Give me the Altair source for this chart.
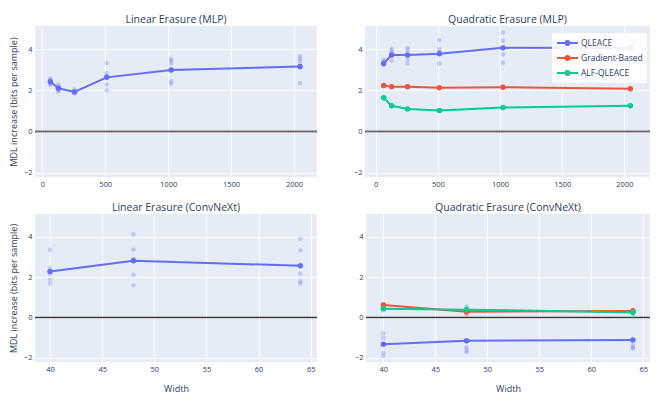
import altair as alt
import pandas as pd

# ---------------- data ----------------
methods = ["QLEACE", "Gradient-Based", "ALF-QLEACE"]
colors = ["#636EFA", "#EF553B", "#00CC96"]

widths_mlp = [64, 128, 256, 512, 1024, 2048]
widths_conv = [40, 48, 64]

lin_mlp_mean = [2.42, 2.10, 1.92, 2.63, 2.99, 3.16]
lin_mlp_seeds = [[2.58, 2.50, 2.34, 2.26], [2.29, 2.18, 2.01, 1.93], [2.05, 1.95, 1.85],
                 [3.33, 2.83, 2.71, 2.29, 2.00], [3.53, 3.43, 3.30, 2.45, 2.32],
                 [3.66, 3.53, 3.40, 3.10, 2.34]]

quad_mlp_qleace_mean = [3.30, 3.71, 3.71, 3.77, 4.06, 4.05]
quad_mlp_grad_mean = [2.24, 2.18, 2.18, 2.13, 2.15, 2.08]
quad_mlp_alf_mean = [1.64, 1.25, 1.10, 1.02, 1.17, 1.25]
quad_mlp_qleace_seeds = [[3.48, 3.40, 3.23], [4.01, 3.92, 3.80, 3.43], [4.05, 3.95, 3.49, 3.30],
                         [4.44, 4.01, 3.88, 3.30], [4.80, 4.40, 3.75, 3.34],
                         [4.45, 4.20, 3.90, 3.70]]

lin_conv_mean = [2.28, 2.81, 2.56]
lin_conv_seeds = [[3.35, 2.42, 2.15, 1.88, 1.68], [4.12, 3.35, 2.89, 2.12, 1.60],
                  [3.89, 3.33, 2.16, 1.79, 1.67]]

quad_conv_qleace_mean = [-1.32, -1.15, -1.11]
quad_conv_grad_mean = [0.62, 0.29, 0.32]
quad_conv_alf_mean = [0.43, 0.39, 0.25]
quad_conv_qleace_seeds = [[-0.78, -1.00, -1.74, -1.90], [-1.47, -1.59, -1.72], [-1.36, -1.47, -1.55]]
quad_conv_grad_seeds = [[0.66, 0.55], [0.15, 0.22, 0.40], [0.38, 0.25]]
quad_conv_alf_seeds = [[0.35, 0.50], [0.55, 0.48, 0.30], [0.02, 0.35]]

y_ticks = [-2, 0, 2, 4]
x_ticks_mlp = [0, 500, 1000, 1500, 2000]
x_ticks_conv = [40, 45, 50, 55, 60, 65]


def mean_df(widths, series):
    rows = []
    for m, vals in series.items():
        for w, v in zip(widths, vals):
            rows.append({"width": w, "value": v, "method": m})
    return pd.DataFrame(rows)


def seed_df(widths, series):
    rows = []
    for m, lists in series.items():
        for w, vals in zip(widths, lists):
            for v in vals:
                rows.append({"width": w, "value": v, "method": m})
    return pd.DataFrame(rows)


FONT = "Open Sans"
TXT = "#2a3f5f"
YDOM = [-2.2, 5.12]

# legend glyph: a line with a dot, unit = 5px (symbolSize 100)
legend_path = ("M-1,0L3.2,0M0.7,0a0.4,0.4 0 1,0 0.8,0"
               "a0.4,0.4 0 1,0 -0.8,0")


def panel(title, mdf, sdf, xdom, xticks, w, h, ytitle, xtitle, zero_color, zero_w, show_legend):
    x = alt.X("width:Q", scale=alt.Scale(domain=xdom, nice=False, zero=False),
              axis=alt.Axis(values=xticks, title=xtitle, format="d"))
    y = alt.Y("value:Q", scale=alt.Scale(domain=YDOM, nice=False, zero=False),
              axis=alt.Axis(values=y_ticks, title=ytitle))
    cscale = alt.Scale(domain=methods, range=colors)
    if show_legend:
        leg = alt.Legend(orient="none", legendX=187, legendY=7, title=None,
                         fillColor="rgba(255,255,255,0.9)", padding=4,
                         symbolType=legend_path, symbolSize=100, symbolStrokeWidth=2,
                         symbolOpacity=1,
                         labelFontSize=8.5, labelFont=FONT, labelColor=TXT,
                         rowPadding=3, labelOffset=13)
    else:
        leg = None
    color = alt.Color("method:N", scale=cscale, legend=leg)
    zero = alt.Chart(pd.DataFrame({"y": [0]})).mark_rule(
        color=zero_color, strokeWidth=zero_w).encode(y=alt.Y("y:Q", scale=alt.Scale(domain=YDOM)))
    seeds = alt.Chart(sdf).mark_circle(size=20, opacity=0.3).encode(x=x, y=y, color=color)
    line = alt.Chart(mdf).mark_line(strokeWidth=2).encode(x=x, y=y, color=color)
    pts = alt.Chart(mdf).mark_circle(size=30, opacity=1).encode(x=x, y=y, color=color)
    return alt.layer(zero, seeds, line, pts).properties(
        width=w, height=h,
        title=alt.TitleParams(title, fontSize=10.5, font=FONT, color=TXT,
                              fontWeight="normal", offset=1))


tl = panel("Linear Erasure (MLP)",
           mean_df(widths_mlp, {"QLEACE": lin_mlp_mean}),
           seed_df(widths_mlp, {"QLEACE": lin_mlp_seeds}),
           [-58, 2183], x_ticks_mlp, 282, 151, "MDL increase (bits per sample)", None,
           "#6e6e6e", 2, False)
tr = panel("Quadratic Erasure (MLP)",
           mean_df(widths_mlp, {"QLEACE": quad_mlp_qleace_mean,
                                "Gradient-Based": quad_mlp_grad_mean,
                                "ALF-QLEACE": quad_mlp_alf_mean}),
           seed_df(widths_mlp, {"QLEACE": quad_mlp_qleace_seeds}),
           [-86, 2206], x_ticks_mlp, 285, 151, None, None,
           "#6e6e6e", 2, True)
bl = panel("Linear Erasure (ConvNeXt)",
           mean_df(widths_conv, {"QLEACE": lin_conv_mean}),
           seed_df(widths_conv, {"QLEACE": lin_conv_seeds}),
           [38.56, 65.6], x_ticks_conv, 282, 148, "MDL increase (bits per sample)", "Width",
           "#3a3a3a", 1.5, False)
br = panel("Quadratic Erasure (ConvNeXt)",
           mean_df(widths_conv, {"QLEACE": quad_conv_qleace_mean,
                                 "Gradient-Based": quad_conv_grad_mean,
                                 "ALF-QLEACE": quad_conv_alf_mean}),
           seed_df(widths_conv, {"QLEACE": quad_conv_qleace_seeds,
                                 "Gradient-Based": quad_conv_grad_seeds,
                                 "ALF-QLEACE": quad_conv_alf_seeds}),
           [38.33, 65.64], x_ticks_conv, 284, 148, None, "Width",
           "#3a3a3a", 1.5, False)

top = alt.hconcat(tl, tr, spacing=48, bounds="flush").resolve_scale(color="independent")
bottom = alt.hconcat(bl, br, spacing=49, bounds="flush").resolve_scale(color="independent")
chart = alt.vconcat(top, bottom, spacing=14).resolve_scale(
    color="independent"
).properties(
    padding={"left": 1, "top": 6, "right": 5, "bottom": 5}
).configure_view(
    fill="#E5ECF6", stroke=None
).configure_axis(
    grid=True, gridColor="white", gridWidth=1, domain=False, ticks=False,
    labelFont=FONT, labelFontSize=7.5, labelColor=TXT, labelPadding=3,
    titleFont=FONT, titleFontSize=9, titleColor=TXT, titleFontWeight="normal"
).configure_axisY(
    titlePadding=5
).configure_axisX(
    titlePadding=12
)

chart.save("out.html", embed_options={"renderer": "svg", "actions": False})
